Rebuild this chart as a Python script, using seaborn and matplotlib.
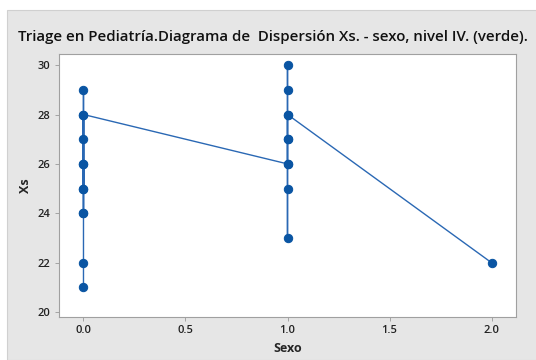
import matplotlib
matplotlib.use("Agg")
import matplotlib.pyplot as plt
import seaborn as sns
import pandas as pd
from matplotlib.patches import Rectangle

# Data in worksheet order (points are joined in this order)
sexo = [0, 0, 0, 0, 0, 0, 0, 0, 0, 0, 0, 0,
        1, 1, 1, 1, 1, 1, 1, 1, 1, 1,
        2]
xs = [21, 22, 24, 26, 25, 27, 29, 24, 26, 28, 25, 28,
      26, 23, 25, 27, 26, 28, 30, 29, 27, 28,
      22]

xticks = [0.0, 0.5, 1.0, 1.5, 2.0]
yticks = [20, 22, 24, 26, 28, 30]

df = pd.DataFrame({"Sexo": sexo, "Xs": xs})

sns.set_style("white")
plt.rcParams["font.family"] = ["Open Sans", "DejaVu Sans"]

fig = plt.figure(figsize=(5.36, 3.6), dpi=100)
fig.patch.set_facecolor("white")
fig.patches.append(Rectangle((7 / 536, 0), 1, 1 - 10 / 360, transform=fig.transFigure,
                             facecolor="#e6e6e6", edgecolor="#d0d0d0", lw=0.8, zorder=-1))
ax = fig.add_axes([59 / 536, 1 - 317 / 360, (516 - 59) / 536, (317 - 54) / 360])

sns.lineplot(data=df, x="Sexo", y="Xs", sort=False, estimator=None, ax=ax,
             color="#2a68b4", lw=1.0, marker="o", markersize=6,
             markerfacecolor="#0a55a3", markeredgecolor="#0a55a3")

ax.set_xlim(-0.12, 2.12)
ax.set_ylim(19.8, 30.45)
ax.set_xticks(xticks)
ax.set_xticklabels([f"{t:.1f}" for t in xticks])
ax.set_yticks(yticks)
ax.tick_params(axis="both", labelsize=8, length=3, width=0.6, color="#999999",
               direction="out", pad=3, bottom=True, left=True)
for lab in ax.get_xticklabels() + ax.get_yticklabels():
    lab.set_fontweight("semibold")
    lab.set_color("#222222")
for s in ax.spines.values():
    s.set_color("#a0a0a0")
    s.set_linewidth(0.8)
ax.set_xlabel("Sexo", fontsize=9, fontweight="bold", labelpad=4)
ax.set_ylabel("Xs", fontsize=9, fontweight="bold", labelpad=4)

fig.text(273 / 536, 1 - 37 / 360, "Triage en Pediatría.Diagrama de  Dispersión Xs. - sexo, nivel IV. (verde).",
         ha="center", va="center", fontsize=10.8, fontweight="semibold", color="#111111")

fig.savefig("out.png", dpi=100)
